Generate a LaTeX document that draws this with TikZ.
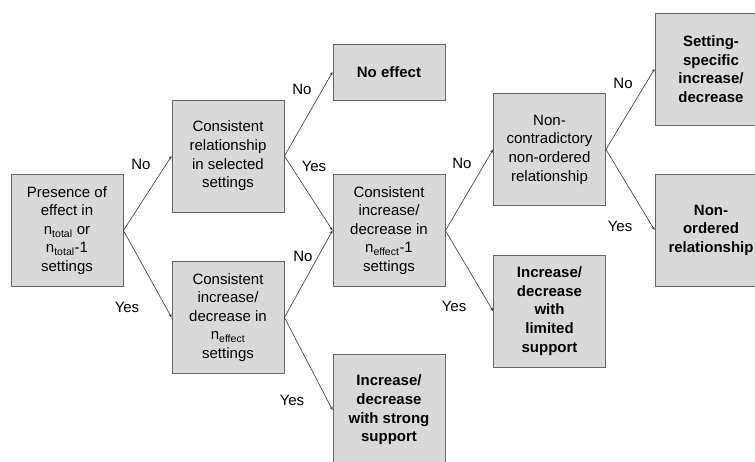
\documentclass[tikz,border=0pt]{standalone}
\usepackage{fontspec}
\setmainfont{Liberation Sans}
\usetikzlibrary{arrows.meta}
\definecolor{boxgray}{RGB}{217,217,217}
\definecolor{edgegray}{RGB}{102,102,102}
\definecolor{linegray}{RGB}{55,55,55}
\tikzset{
  q/.style={rectangle, draw=edgegray, fill=boxgray, line width=0.9pt,
    minimum width=112pt, minimum height=112pt, inner sep=0pt,
    align=center, font=\fontsize{15}{18.6}\selectfont},
  res/.style={q, font=\fontsize{15}{18.6}\selectfont\bfseries},
  arrow/.style={-{Stealth[length=3.5pt,width=3pt]}, line width=0.6pt, linegray},
  lbl/.style={font=\fontsize{15}{18}\selectfont, inner sep=0pt}
}
\newcommand{\sub}[1]{\textsubscript{#1}}

\begin{document}
\begin{tikzpicture}[x=1pt, y={(0pt,-1pt)}]
  \useasboundingbox (0,0) rectangle (755,461);
  \clip (0,0) rectangle (755,461);
  % questions
  \node[q] (presence) at (67,230.5) {Presence of\\effect in\\n\sub{total} or\\n\sub{total}-1\\settings};
  \node[q] (selected) at (228,156) {Consistent\\relationship\\in selected\\settings};
  \node[q] (neffect) at (228,317.5) {Consistent\\increase/\\decrease in\\n\sub{effect}\\settings};
  \node[q] (neffmin) at (389,230.5) {Consistent\\increase/\\decrease in\\n\sub{effect}-1\\settings};
  \node[q] (noncontra) at (549.5,149.5) {Non-\\contradictory\\non-ordered\\relationship};
  % results
  \node[res, minimum height=56pt] (noeffect) at (389,72) {No effect};
  \node[res] (strong) at (389,410) {Increase/\\decrease\\with strong\\support};
  \node[res] (limited) at (549.5,311) {Increase/\\decrease\\with\\limited\\support};
  \node[res] (specific) at (711,69) {Setting-\\specific\\increase/\\decrease};
  \node[res] (nonordered) at (711,230) {Non-\\ordered\\relationship};
  % connectors
  \draw[arrow] (presence.east) -- (selected.west);
  \draw[arrow] (presence.east) -- (neffect.west);
  \draw[arrow] (selected.east) -- (noeffect.west);
  \draw[arrow] (selected.east) -- (neffmin.west);
  \draw[arrow] (neffect.east) -- (neffmin.west);
  \draw[arrow] (neffect.east) -- (strong.west);
  \draw[arrow] (neffmin.east) -- (noncontra.west);
  \draw[arrow] (neffmin.east) -- (limited.west);
  \draw[arrow] (noncontra.east) -- (specific.west);
  \draw[arrow] (noncontra.east) -- (nonordered.west);
  % answers
  \node[lbl] (noA) at (141,164) {No};
  \node[lbl] (yesA) at (127,307) {Yes};
  \node[lbl] (noB) at (302,89) {No};
  \node[lbl] (yesB) at (314,166) {Yes};
  \node[lbl] (noC) at (303,256) {No};
  \node[lbl] (yesC) at (292,400) {Yes};
  \node[lbl] (noE) at (462,163) {No};
  \node[lbl] (yesE) at (454,306) {Yes};
  \node[lbl] (noG) at (623,83) {No};
  \node[lbl] (yesG) at (620,226) {Yes};
\end{tikzpicture}
\end{document}
